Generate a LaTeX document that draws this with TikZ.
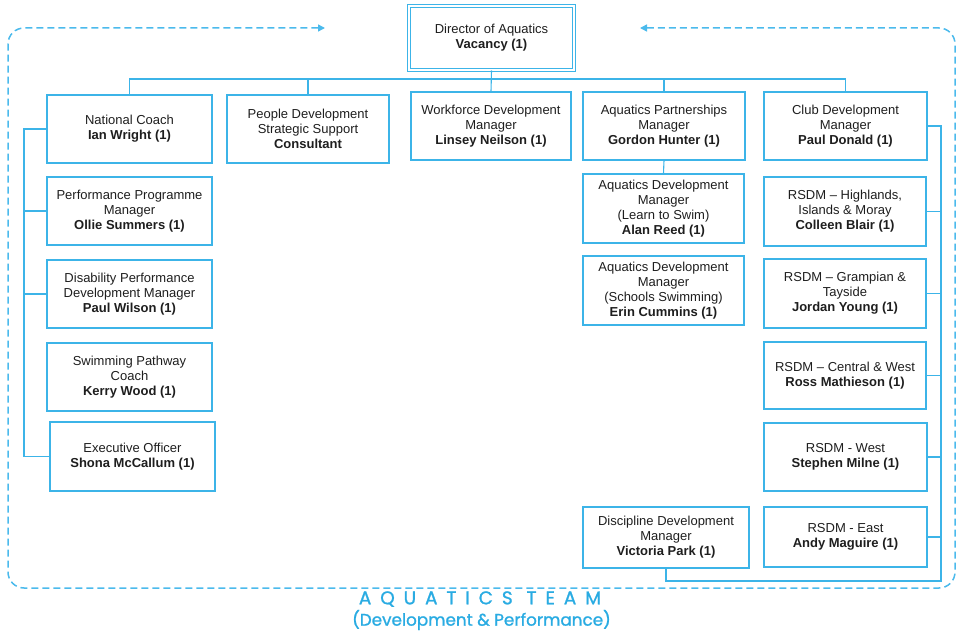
\documentclass[tikz,border=0pt]{standalone}
\usepackage{fontspec}
\setmainfont{Liberation Sans}
\newfontfamily\titlefont[FakeBold=1.2]{Poppins}
\usetikzlibrary{arrows.meta}
\definecolor{boxblue}{RGB}{60,180,232}
\definecolor{dashblue}{RGB}{75,186,236}
\definecolor{titleblue}{RGB}{41,171,226}
\definecolor{ink}{RGB}{30,30,30}
\tikzset{
  post/.style={draw=boxblue, line width=1.1pt, align=center, inner sep=0pt,
    minimum width=165pt, minimum height=68pt, text=ink,
    font=\fontsize{13}{15}\selectfont},
  link/.style={draw=boxblue, line width=1.1pt},
}
\begin{document}
\begin{tikzpicture}[x=1pt,y=-1pt]
\useasboundingbox (0,0) rectangle (962,631);
% team outline
\draw[dashblue, line width=1.5pt, dash pattern=on 7pt off 4pt, rounded corners=16pt,
  {Triangle[length=7pt,width=7pt]}-{Triangle[length=7pt,width=7pt]}]
  (325,28) -- (8,28) -- (8,588) -- (955,588) -- (955,28) -- (640,28);
% director
\node[post, double=white, double distance=1.6pt, line width=1pt, minimum width=165pt, minimum height=64pt] (dir) at (491.5,38)
  {Director of Aquatics\\\textbf{Vacancy (1)}};
% first row
\node[post] (nc) at (129.5,129) {National Coach\\\textbf{Ian Wright (1)}};
\node[post, minimum width=162pt] (pd) at (308,129) {People Development\\Strategic Support\\\textbf{Consultant}};
\node[post, minimum width=160pt] (wf) at (491,126) {Workforce Development\\Manager\\\textbf{Linsey Neilson (1)}};
\node[post, minimum width=162pt] (ap) at (664,126) {Aquatics Partnerships\\Manager\\\textbf{Gordon Hunter (1)}};
\node[post, minimum width=163pt] (cd) at (845.5,126) {Club Development\\Manager\\\textbf{Paul Donald (1)}};
% performance side
\node[post] (ppm) at (129.5,211) {Performance Programme\\Manager\\\textbf{Ollie Summers (1)}};
\node[post] (dpd) at (129.5,294) {Disability Performance\\Development Manager\\\textbf{Paul Wilson (1)}};
\node[post] (spc) at (129.5,377) {Swimming Pathway\\Coach\\\textbf{Kerry Wood (1)}};
\node[post, minimum height=69pt] (eo) at (132.5,456.5) {Executive Officer\\\textbf{Shona McCallum (1)}};
% partnerships side
\node[post, minimum width=161pt, minimum height=69pt] (adl) at (663.5,208.5) {Aquatics Development\\Manager\\(Learn to Swim)\\\textbf{Alan Reed (1)}};
\node[post, minimum width=161pt, minimum height=69pt] (ads) at (663.5,290.5) {Aquatics Development\\Manager\\(Schools Swimming)\\\textbf{Erin Cummins (1)}};
\node[post, minimum width=166pt, minimum height=61pt] (ddm) at (666,537.5) {Discipline Development\\Manager\\\textbf{Victoria Park (1)}};
% club side
\node[post, minimum width=162pt, minimum height=69pt] (rh) at (845,211.5) {RSDM -- Highlands,\\Islands \& Moray\\\textbf{Colleen Blair (1)}};
\node[post, minimum width=162pt, minimum height=69pt] (rg) at (845,293.5) {RSDM -- Grampian \&\\Tayside\\\textbf{Jordan Young (1)}};
\node[post, minimum width=162pt, minimum height=67pt] (rc) at (845,375.5) {RSDM -- Central \& West\\\textbf{Ross Mathieson (1)}};
\node[post, minimum width=163pt] (rw) at (845.5,457) {RSDM - West\\\textbf{Stephen Milne (1)}};
\node[post, minimum width=163pt, minimum height=60pt] (re) at (845.5,537) {RSDM - East\\\textbf{Andy Maguire (1)}};
% connectors
\coordinate (bus) at (0,79);
\coordinate (lbus) at (24,0);
\coordinate (rbot) at (941,581);
\draw[link] (dir.south) -- (wf.north);
\draw[link] (nc.north) |- (bus -| cd.north) -- (cd.north);
\foreach \n in {pd,ap}{\draw[link] (\n.north) -- (\n.north |- bus);}
\draw[link] (ap.south) -- (adl.north);
\draw[link] (nc.west) -| (lbus |- eo.west) -- (eo.west);
\foreach \n in {ppm,dpd}{\draw[link] (\n.west) -- (\n.west -| lbus);}
\draw[link] (ddm.south) |- (rbot) |- (cd.east);
\foreach \n in {rh,rg,rc,rw,re}{\draw[link] (\n.east) -- (\n.east -| rbot);}
% title
\node[text=titleblue, font=\titlefont\fontsize{18.5}{20}\selectfont\addfontfeature{LetterSpace=48}] (title) at (480,599) {AQUATICS TEAM};
\node[text=titleblue, font=\titlefont\fontsize{16.8}{18}\selectfont] (subtitle) at (481.5,620) {(Development \& Performance)};
\end{tikzpicture}
\end{document}
